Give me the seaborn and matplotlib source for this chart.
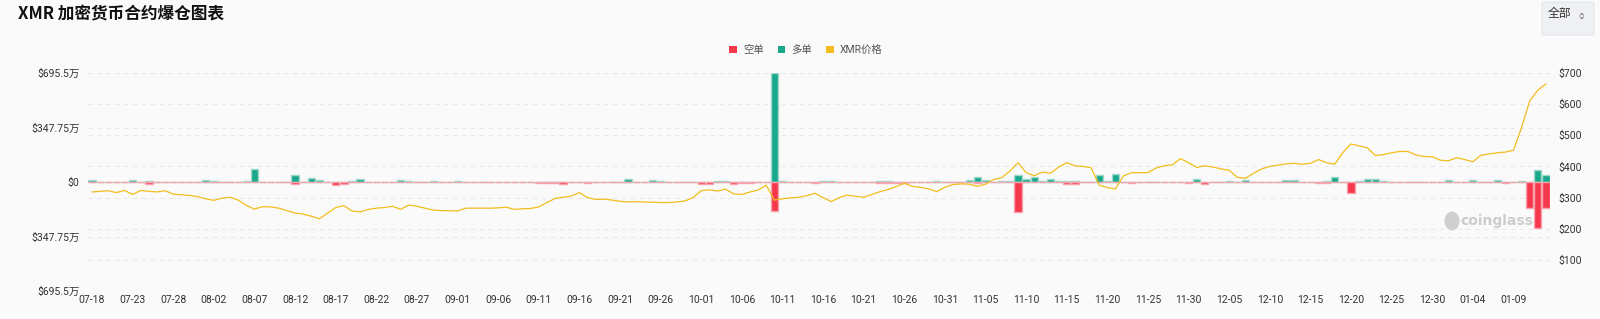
import numpy as np
import pandas as pd
import matplotlib
matplotlib.use("Agg")
import matplotlib.pyplot as plt
from matplotlib.patches import Patch, FancyBboxPatch, Ellipse
import seaborn as sns

# ---------------- data ----------------
dates = pd.date_range("2025-07-18", periods=180, freq="D")
day_labels = [d.strftime("%m-%d") for d in dates]

# long liquidations (万 USD)
long_liq = [12, 2, 3, 3, 3, 12, 3, 8, 2, 2, 2, 3, 3, 3, 14, 8, 1, 2, 3, 4,
            83, 3, 2, 3, 3, 45, 3, 25, 14, 2, 1, 2, 4, 18, 3, 2, 2, 3, 12, 8,
            2, 2, 6, 2, 2, 6, 1, 1, 2, 3, 2, 1, 1, 2, 2, 1, 1, 1, 2, 3,
            3, 2, 1, 1, 2, 3, 21, 2, 2, 10, 4, 1, 2, 2, 2, 2, 2, 4, 4, 3,
            3, 2, 1, 2, 695.5, 8, 2, 1, 3, 3, 8, 5, 2, 2, 2, 2, 3, 6, 4, 2,
            1, 1, 3, 3, 5, 2, 2, 3, 10, 32, 10, 2, 6, 6, 47, 21, 32, 9, 20, 4,
            4, 8, 2, 2, 44, 9, 48, 2, 2, 3, 3, 1, 2, 2, 2, 2, 22, 2, 1, 3,
            4, 2, 11, 2, 2, 2, 2, 13, 11, 2, 2, 2, 6, 29, 2, 2, 6, 17, 22, 9,
            2, 1, 2, 3, 3, 2, 3, 13, 2, 2, 11, 2, 2, 10, 2, 3, 4, 3, 75, 45]

# short liquidations (万 USD, drawn below zero)
short_liq = [1, 1, 1, 1, 1, 1, 1, 10, 1, 1, 1, 1, 1, 1, 1, 1, 1, 1, 1, 1,
             1, 1, 1, 1, 1, 10, 1, 1, 1, 1, 18, 10, 3, 2, 1, 1, 1, 1, 1, 1,
             3, 3, 1, 1, 1, 1, 3, 3, 3, 1, 1, 3, 3, 3, 1, 4, 4, 4, 15, 3,
             3, 5, 1, 1, 1, 1, 1, 1, 1, 1, 3, 3, 1, 1, 3, 15, 10, 1, 1, 15,
             5, 5, 1, 1, 185, 1, 1, 1, 3, 5, 1, 1, 1, 1, 1, 3, 1, 4, 4, 4,
             4, 1, 1, 1, 1, 1, 1, 1, 1, 5, 1, 1, 1, 1, 190, 1, 1, 1, 1, 1,
             13, 10, 1, 1, 1, 1, 1, 1, 9, 1, 3, 3, 3, 1, 1, 9, 1, 11, 1, 1,
             1, 1, 1, 1, 1, 1, 3, 1, 1, 3, 1, 9, 4, 1, 1, 70, 3, 1, 1, 1,
             1, 3, 3, 1, 1, 3, 3, 1, 3, 3, 1, 1, 1, 1, 9, 1, 1, 168, 296, 168]

# XMR price (USD)
price = [318, 320, 322, 316, 323, 310, 323, 320, 318, 322, 311, 309, 307, 303, 296, 291, 298, 301, 292, 275,
         263, 271, 270, 266, 258, 250, 247, 240, 232, 250, 268, 274, 257, 254, 262, 266, 268, 272, 262, 276,
         272, 266, 260, 258, 258, 257, 266, 266, 266, 266, 267, 269, 262, 264, 265, 270, 284, 297, 301, 305,
         316, 300, 294, 295, 292, 288, 286, 287, 286, 285, 284, 284, 286, 289, 300, 322, 325, 321, 327, 312,
         310, 318, 324, 340, 292, 296, 299, 301, 306, 314, 300, 287, 300, 308, 304, 301, 310, 319, 326, 335,
         346, 336, 333, 328, 319, 333, 342, 344, 343, 336, 343, 358, 364, 385, 412, 380, 370, 382, 378, 398,
         412, 402, 400, 396, 340, 332, 328, 370, 380, 380, 380, 395, 402, 405, 425, 412, 397, 402, 398, 392,
         388, 365, 362, 378, 392, 400, 404, 408, 410, 407, 410, 422, 412, 407, 445, 472, 466, 460, 435, 438,
         444, 448, 448, 437, 432, 431, 420, 418, 428, 422, 415, 436, 440, 444, 446, 452, 525, 610, 645, 665]

left_ticks = [-695.5, -347.75, 0, 347.75, 695.5]
left_tick_labels = ["$695.5万", "$347.75万", "$0", "$347.75万", "$695.5万"]
right_ticks = [100, 200, 300, 400, 500, 600, 700]
right_tick_labels = ["$100", "$200", "$300", "$400", "$500", "$600", "$700"]

# ---------------- style ----------------
RED = "#f5384b"
RED_EDGE = "#f7a3ad"
GREEN = "#1aa88c"
GREEN_EDGE = "#9fd9cb"
YELLOW = "#f2bd1d"
BG = "#fafafa"
GRID = "#e9e9e9"

sns.set_theme(style="white")
plt.rcParams["font.family"] = ["Roboto", "Noto Sans CJK SC", "DejaVu Sans"]

df = pd.DataFrame({"day": day_labels, "long": long_liq,
                   "short": [-v for v in short_liq], "price": price})
df["pos"] = np.arange(len(df))

fig = plt.figure(figsize=(16, 3.19), dpi=100, facecolor=BG)
ax = fig.add_axes([88 / 1600, 1 - 291 / 319, (1550 - 88) / 1600, (291 - 73) / 319])
ax.set_facecolor(BG)

# grid lines (both axes' grids drawn under the bars, in axes-fraction height)
ygrid_tf = ax.get_yaxis_transform()
for frac in [0.25, 0.75, 1.0, 0.0]:
    ax.plot([0, 1], [frac, frac], transform=ax.transAxes, color=GRID,
            lw=0.8, ls=(0, (4, 4)), zorder=0)
for v in right_ticks:
    ax.plot([0, 1], [v / 700, v / 700], transform=ax.transAxes, color=GRID,
            lw=0.8, ls=(0, (4, 4)), zorder=0)

sns.barplot(data=df, x="day", y="long", color=GREEN, width=0.9,
            edgecolor=GREEN_EDGE, linewidth=1, saturation=1, errorbar=None,
            ax=ax, zorder=2)
sns.barplot(data=df, x="day", y="short", color=RED, width=0.9,
            edgecolor=RED_EDGE, linewidth=1, saturation=1, errorbar=None,
            ax=ax, zorder=2)
ax.axhline(0, color="#e4e4e4", lw=0.8, zorder=1)

ax.set_xlim(-0.5, len(df) - 0.5)
ax.set_ylim(-695.5, 695.5)
ax.set_yticks(left_ticks)
ax.set_yticklabels(left_tick_labels)
xt = list(range(0, len(df), 5))
ax.set_xticks(xt)
ax.set_xticklabels([day_labels[i] for i in xt])
ax.tick_params(axis="x", length=0, pad=3, labelsize=7.5, colors="#333333")
ax.tick_params(axis="y", length=0, pad=6, labelsize=7.5, colors="#333333")
ax.set_xlabel("")
ax.set_ylabel("")
for s in ax.spines.values():
    s.set_visible(False)

ax2 = ax.twinx()
sns.lineplot(data=df, x="pos", y="price", color=YELLOW, lw=0.9, ax=ax2, zorder=3)
ax2.set_ylim(0, 700)
ax2.set_yticks(right_ticks)
ax2.set_yticklabels(right_tick_labels)
ax2.tick_params(axis="y", length=0, pad=6, labelsize=7.5, colors="#333333")
ax2.set_ylabel("")
for s in ax2.spines.values():
    s.set_visible(False)
ax.set_xlim(-0.5, len(df) - 0.5)

# title
fig.text(18 / 1600, 1 - 14 / 319, "XMR 加密货币合约爆仓图表", fontsize=12,
         fontweight="bold", color="#111111", va="center", ha="left",
         family=["Noto Sans CJK SC", "DejaVu Sans"])

# button top-right
btn = FancyBboxPatch((1542 / 1600, 1 - 35 / 319), 52 / 1600, 33 / 319,
                     boxstyle="round,pad=0,rounding_size=0.003",
                     transform=fig.transFigure, facecolor="#eef0f3",
                     edgecolor="#e3e6eb", lw=0.8)
fig.patches.append(btn)
fig.text(1548 / 1600, 1 - 14 / 319, "全部", fontsize=8.5, color="#333333",
         va="center", ha="left", family=["Noto Sans CJK SC", "DejaVu Sans"])
fig.text(1582 / 1600, 1 - 15 / 319, "‹›", fontsize=8, color="#555555",
         va="center", ha="center", rotation=90, family=["DejaVu Sans"])

# legend
handles = [Patch(facecolor=RED, edgecolor="none", label="空单"),
           Patch(facecolor=GREEN, edgecolor="none", label="多单"),
           Patch(facecolor=YELLOW, edgecolor="none", label="XMR价格")]
leg = fig.legend(handles=handles, loc="center", ncol=3, frameon=False,
                 bbox_to_anchor=(806 / 1600, 1 - 50 / 319), fontsize=7.5,
                 handlelength=0.75, handleheight=0.75, handletextpad=0.6,
                 columnspacing=1.3)
for t in leg.get_texts():
    t.set_color("#555555")

# watermark
fig.patches.append(Ellipse((1452 / 1600, 1 - 221 / 319), 15 / 1600, 19 / 319,
                           transform=fig.transFigure, facecolor="#cfcfcf",
                           edgecolor="none"))
fig.text(1497 / 1600, 1 - 221 / 319, "coinglass", fontsize=10, fontweight="bold",
         color="#cccccc", va="center", ha="center", family=["DejaVu Sans"])

fig.savefig("out.png", dpi=100, facecolor=BG)
